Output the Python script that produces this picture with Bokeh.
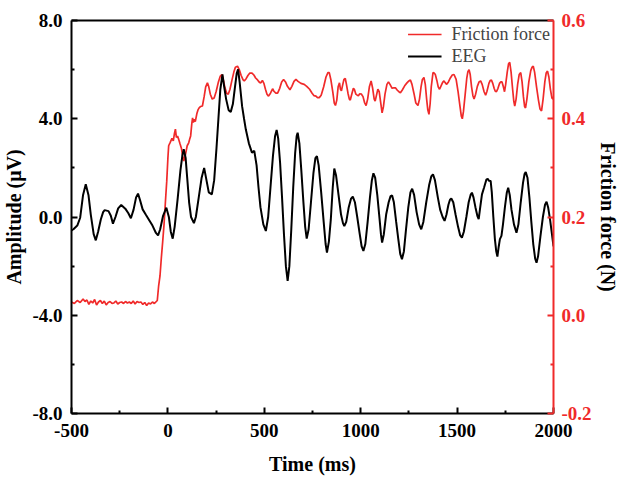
from bokeh.plotting import figure
from bokeh.models import Range1d, LinearAxis, FixedTicker, NumeralTickFormatter, Legend, LegendItem
from bokeh.embed import file_html
from bokeh.resources import INLINE

# EEG (µV) vs time (ms)
eeg_t = [-500, -490, -470, -455, -440, -426, -412, -400, -385, -374, -362, -348, -336, -328, -308, -296,
         -285, -272, -258, -242, -221, -205, -192, -178, -165, -155, -145, -131, -115, -100, -80, -62,
         -51, -40, -25, -8, 5, 15, 25, 35, 50, 65, 75, 82, 92, 100, 110, 120, 135, 145, 160, 175, 188,
         200, 212, 228, 240, 252, 262, 272, 283, 292, 302, 315, 326, 337, 348, 357, 364, 372, 385, 395,
         404, 420, 436, 448, 460, 470, 480, 495, 508, 520, 532, 545, 556, 564, 572, 582, 592, 602, 612,
         621, 630, 640, 650, 660, 668, 673, 682, 692, 702, 712, 720, 730, 742, 755, 765, 773, 782, 795,
         808, 818, 825, 835, 845, 855, 863, 872, 885, 898, 908, 915, 925, 938, 950, 959, 970, 982, 995,
         1005, 1014, 1024, 1036, 1048, 1058, 1066, 1075, 1086, 1098, 1105, 1111, 1120, 1132, 1145, 1155,
         1163, 1172, 1184, 1195, 1205, 1214, 1224, 1235, 1247, 1258, 1267, 1277, 1290, 1303, 1314, 1325,
         1340, 1355, 1366, 1375, 1385, 1400, 1412, 1425, 1435, 1445, 1455, 1463, 1470, 1480, 1492, 1505,
         1516, 1525, 1535, 1548, 1560, 1570, 1577, 1585, 1595, 1605, 1612, 1620, 1629, 1640, 1652, 1660,
         1665, 1674, 1680, 1688, 1696, 1703, 1709, 1716, 1722, 1730, 1738, 1748, 1758, 1765, 1773, 1782,
         1795, 1808, 1818, 1830, 1842, 1850, 1856, 1865, 1875, 1885, 1895, 1905, 1912, 1920, 1932, 1945,
         1956, 1964, 1972, 1982, 1992, 2000]
eeg_v = [-0.55, -0.5, -0.35, -0.03, 0.9, 1.33, 0.9, 0.1, -0.7, -0.95, -0.6, -0.1, 0.2, 0.28, 0.24, 0.05,
         -0.27, 0.0, 0.35, 0.49, 0.34, 0.15, -0.05, 0.3, 0.8, 0.95, 0.7, 0.31, 0.1, -0.09, -0.35, -0.65,
         -0.75, -0.5, 0.05, 0.38, 0.0, -0.6, -0.88, -0.4, 0.7, 1.9, 2.5, 2.76, 2.4, 1.6, 0.6, 0.0, -0.25,
         0.0, 0.8, 1.6, 2.0, 1.5, 1.0, 0.92, 1.5, 2.8, 4.0, 5.2, 5.81, 5.3, 4.8, 4.35, 4.28, 4.6, 5.3,
         5.85, 6.01, 5.5, 4.5, 4.0, 3.57, 3.0, 2.62, 2.69, 2.1, 1.2, 0.4, -0.3, -0.57, 0.0, 1.2, 2.5, 3.3,
         3.54, 3.2, 2.2, 0.8, -0.7, -2.0, -2.6, -2.0, -0.5, 1.2, 2.6, 3.3, 3.43, 3.0, 1.9, 0.7, -0.4,
         -0.88, -0.5, 0.6, 1.8, 2.4, 2.48, 2.1, 1.0, -0.2, -1.1, -1.45, -1.0, -0.1, 1.2, 1.97, 1.7, 0.9,
         0.1, -0.25, -0.37, -0.2, 0.4, 0.75, 0.83, 0.6, 0.0, -0.7, -1.2, -1.38, -1.1, -0.2, 0.8, 1.5, 1.78,
         1.6, 0.9, -0.1, -0.7, -1.04, -0.7, 0.1, 0.6, 0.85, 0.88, 0.6, -0.2, -0.9, -1.5, -1.72, -1.4, -0.5,
         0.4, 1.0, 1.15, 0.9, 0.2, -0.3, -0.5, -0.2, 0.6, 1.3, 1.65, 1.74, 1.5, 0.8, 0.3, 0.0, -0.16, 0.1,
         0.5, 0.7, 0.75, 0.6, 0.1, -0.4, -0.75, -0.84, -0.6, 0.0, 0.6, 0.9, 0.99, 0.8, 0.4, 0.05, -0.09,
         0.4, 0.92, 1.2, 1.53, 1.55, 1.48, 1.47, 1.0, 0.0, -0.9, -1.4, -1.61, -1.2, -0.9, -0.77, -0.3, 0.4,
         1.0, 1.19, 0.9, 0.3, -0.3, -0.64, -0.3, 0.6, 1.4, 1.75, 1.83, 1.6, 0.8, -0.2, -1.1, -1.7, -1.86,
         -1.6, -0.8, 0.0, 0.5, 0.62, 0.4, -0.1, -0.7, -1.2]

# Friction force (N) vs time (ms)
fric_t = [-500, -485, -470, -455, -440, -430, -420, -410, -400, -390, -380, -370, -360, -350, -340, -330,
          -320, -310, -300, -290, -280, -270, -260, -250, -240, -230, -220, -210, -200, -190, -180, -170,
          -160, -150, -140, -130, -120, -110, -100, -90, -80, -70, -60, -55, -48, -41, -34, -27, -20, -13,
          -6, 0, 4, 12, 21, 28, 34, 39, 44, 50, 56, 62, 70, 76, 82, 90, 100, 108, 114, 118, 124, 128, 132,
          136, 142, 150, 156, 162, 170, 179, 188, 196, 205, 212, 220, 230, 240, 250, 262, 272, 280, 288,
          296, 305, 313, 322, 332, 342, 350, 361, 370, 380, 390, 396, 405, 415, 425, 436, 446, 455, 465,
          475, 482, 490, 498, 506, 514, 522, 532, 543, 550, 560, 569, 580, 590, 600, 610, 620, 633, 643,
          654, 664, 675, 690, 707, 720, 735, 748, 758, 768, 776, 785, 795, 808, 820, 830, 837, 845, 855,
          863, 869, 876, 883, 890, 895, 900, 906, 913, 920, 926, 934, 941, 946, 955, 962, 967, 975, 982,
          988, 995, 1004, 1012, 1020, 1028, 1036, 1045, 1054, 1062, 1070, 1075, 1082, 1089, 1096, 1103,
          1111, 1118, 1126, 1136, 1144, 1152, 1163, 1172, 1180, 1190, 1198, 1206, 1215, 1228, 1240, 1250,
          1258, 1266, 1276, 1286, 1297, 1305, 1313, 1320, 1328, 1335, 1342, 1348, 1354, 1360, 1366, 1375,
          1381, 1387, 1395, 1402, 1409, 1418, 1425, 1432, 1439, 1446, 1455, 1465, 1475, 1484, 1495, 1505,
          1515, 1522, 1527, 1533, 1542, 1550, 1556, 1562, 1568, 1575, 1582, 1588, 1596, 1605, 1614, 1622,
          1630, 1640, 1648, 1655, 1665, 1672, 1678, 1685, 1692, 1698, 1704, 1712, 1720, 1727, 1733, 1740,
          1746, 1752, 1760, 1767, 1773, 1780, 1788, 1794, 1799, 1806, 1814, 1822, 1830, 1837, 1844, 1850,
          1855, 1862, 1872, 1882, 1889, 1895, 1902, 1912, 1922, 1930, 1938, 1946, 1955, 1962, 1969, 1976,
          1984, 1992, 1998, 2000]
fric_v = [0.027, 0.024, 0.030, 0.026, 0.033, 0.028, 0.031, 0.022, 0.029, 0.025, 0.032, 0.021, 0.027,
          0.030, 0.024, 0.029, 0.021, 0.026, 0.028, 0.024, 0.025, 0.029, 0.023, 0.026, 0.027, 0.024,
          0.028, 0.025, 0.027, 0.024, 0.029, 0.023, 0.028, 0.026, 0.027, 0.022, 0.026, 0.020, 0.025,
          0.023, 0.027, 0.024, 0.028, 0.030, 0.060, 0.080, 0.117, 0.150, 0.185, 0.230, 0.273, 0.320,
          0.345, 0.352, 0.360, 0.355, 0.370, 0.379, 0.362, 0.365, 0.358, 0.350, 0.340, 0.325, 0.314,
          0.325, 0.345, 0.351, 0.360, 0.365, 0.390, 0.402, 0.392, 0.399, 0.394, 0.410, 0.418, 0.422,
          0.425, 0.426, 0.445, 0.465, 0.473, 0.465, 0.450, 0.440, 0.442, 0.455, 0.475, 0.487, 0.490,
          0.478, 0.463, 0.452, 0.450, 0.460, 0.478, 0.495, 0.505, 0.507, 0.500, 0.488, 0.479, 0.477,
          0.481, 0.488, 0.493, 0.493, 0.489, 0.483, 0.479, 0.474, 0.473, 0.478, 0.472, 0.460, 0.450,
          0.446, 0.452, 0.461, 0.456, 0.452, 0.452, 0.462, 0.475, 0.480, 0.475, 0.466, 0.459, 0.466,
          0.476, 0.480, 0.476, 0.472, 0.470, 0.466, 0.460, 0.452, 0.447, 0.446, 0.443, 0.443, 0.448,
          0.465, 0.485, 0.494, 0.494, 0.480, 0.455, 0.432, 0.427, 0.438, 0.465, 0.473, 0.460, 0.457,
          0.468, 0.480, 0.482, 0.470, 0.452, 0.440, 0.438, 0.452, 0.462, 0.460, 0.450, 0.448, 0.447,
          0.451, 0.450, 0.445, 0.433, 0.427, 0.440, 0.465, 0.477, 0.462, 0.440, 0.436, 0.448, 0.460,
          0.455, 0.435, 0.412, 0.425, 0.450, 0.470, 0.475, 0.470, 0.462, 0.463, 0.463, 0.458, 0.455,
          0.453, 0.458, 0.467, 0.473, 0.477, 0.479, 0.470, 0.452, 0.432, 0.427, 0.440, 0.465, 0.480,
          0.484, 0.470, 0.440, 0.418, 0.409, 0.430, 0.465, 0.494, 0.493, 0.490, 0.478, 0.465, 0.460,
          0.468, 0.474, 0.477, 0.473, 0.470, 0.475, 0.483, 0.489, 0.490, 0.480, 0.455, 0.425, 0.405,
          0.400, 0.415, 0.450, 0.482, 0.496, 0.500, 0.490, 0.465, 0.447, 0.440, 0.450, 0.466, 0.475,
          0.477, 0.470, 0.455, 0.448, 0.456, 0.472, 0.478, 0.479, 0.472, 0.462, 0.456, 0.455, 0.462,
          0.472, 0.475, 0.475, 0.465, 0.455, 0.470, 0.495, 0.512, 0.515, 0.495, 0.460, 0.436, 0.426,
          0.440, 0.470, 0.490, 0.494, 0.475, 0.445, 0.425, 0.422, 0.440, 0.475, 0.498, 0.505, 0.507,
          0.495, 0.465, 0.438, 0.420, 0.416, 0.440, 0.475, 0.493, 0.497, 0.485, 0.460, 0.442, 0.440,
          0.445]

x_ticks = [-500, 0, 500, 1000, 1500, 2000]
x_minor = [-250, 250, 750, 1250, 1750]
y_ticks = [-8, -4, 0, 4, 8]
y_minor = [-6, -2, 2, 6]
f_ticks = [-0.2, 0.0, 0.2, 0.4, 0.6]
f_minor = [-0.1, 0.1, 0.3, 0.5]

FONT = "Liberation Serif"
RED = "#f02a2a"

p = figure(width=625, height=481, output_backend="svg", toolbar_location=None,
           x_range=Range1d(-500, 2000), y_range=Range1d(-8, 8),
           min_border_left=71, min_border_right=72, min_border_top=20, min_border_bottom=68)
p.outline_line_color = None
p.xgrid.visible = False
p.ygrid.visible = False
p.background_fill_color = "white"
p.border_fill_color = "white"
p.extra_y_ranges = {"f": Range1d(-0.2, 0.6)}

r_f = p.line(fric_t, fric_v, line_color=RED, line_width=1.7, y_range_name="f")
r_e = p.line(eeg_t, eeg_v, line_color="black", line_width=2)


def style(ax, color, ticks, minor, fmt):
    ax.ticker = FixedTicker(ticks=ticks, minor_ticks=minor)
    ax.formatter = NumeralTickFormatter(format=fmt)
    ax.axis_line_color = color
    ax.axis_line_width = 2
    ax.major_tick_line_color = color
    ax.minor_tick_line_color = color
    ax.major_tick_line_width = 2
    ax.minor_tick_line_width = 2
    ax.major_tick_in = 6
    ax.major_tick_out = 0
    ax.minor_tick_in = 3
    ax.minor_tick_out = 0
    ax.major_label_text_color = color
    ax.major_label_text_font = FONT
    ax.major_label_text_font_style = "bold"
    ax.major_label_text_font_size = "19px"
    ax.axis_label_text_font = FONT
    ax.axis_label_text_font_style = "bold"
    ax.axis_label_text_font_size = "20px"
    ax.axis_label_text_color = "black"


xa = p.xaxis[0]
style(xa, "black", x_ticks, x_minor, "0")
xa.axis_label = "Time (ms)"
xa.major_label_standoff = 10
xa.axis_label_standoff = 13

ya = p.yaxis[0]
style(ya, "black", y_ticks, y_minor, "0.0")
ya.axis_label = "Amplitude (μV)"
ya.major_label_standoff = 9
ya.axis_label_standoff = 4

ra = LinearAxis(y_range_name="f")
style(ra, RED, f_ticks, f_minor, "0.0")
ra.axis_label = "Friction force (N)"
ra.major_label_standoff = 8
ra.axis_label_standoff = 2
p.add_layout(ra, "right")

ta = LinearAxis()
ta.ticker = FixedTicker(ticks=[])
ta.axis_line_color = "black"
ta.axis_line_width = 2
ta.major_tick_line_color = None
ta.minor_tick_line_color = None
ta.major_label_text_font_size = "0px"
p.add_layout(ta, "above")

legend = Legend(items=[LegendItem(label="Friction force", renderers=[r_f]),
                       LegendItem(label="EEG", renderers=[r_e])],
                location="top_right")
legend.border_line_color = None
legend.background_fill_alpha = 0
legend.label_text_font = FONT
legend.label_text_font_size = "18px"
legend.glyph_width = 34
legend.glyph_height = 22
legend.label_height = 22
legend.label_standoff = 10
legend.spacing = 0
legend.padding = 6
legend.margin = 3
p.add_layout(legend)

open("out.html", "w").write(file_html(p, INLINE))
